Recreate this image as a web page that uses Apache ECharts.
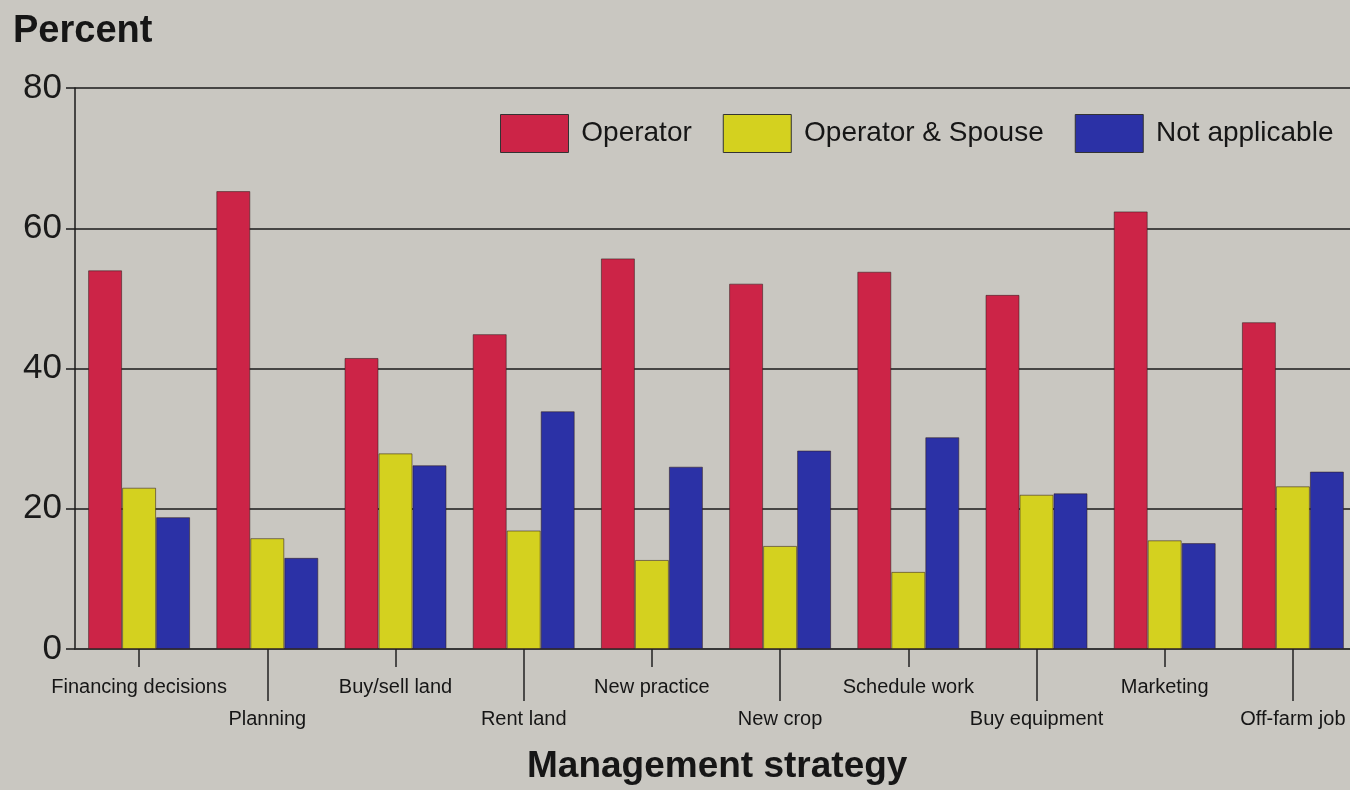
<!DOCTYPE html>
<html>
<head>
<meta charset="utf-8">
<script src="https://cdn.jsdelivr.net/npm/echarts@6/dist/echarts.min.js"></script>
<style>
  html, body { margin: 0; padding: 0; overflow: hidden; background: #c9c7c1; }
  #chart { width: 1360px; height: 790px; }
</style>
</head>
<body>
<div id="chart"></div>
<script>
// 管理策略类别
const categories = ['Financing decisions', 'Planning', 'Buy/sell land', 'Rent land', 'New practice',
    'New crop', 'Schedule work', 'Buy equipment', 'Marketing', 'Off-farm job'];
const seriesNames = ['Operator', 'Operator & Spouse', 'Not applicable'];
const operator = [54.0, 65.3, 41.5, 44.9, 55.7, 52.1, 53.8, 50.5, 62.4, 46.6];
const operatorSpouse = [23.0, 15.8, 27.9, 16.9, 12.7, 14.7, 11.0, 22.0, 15.5, 23.2];
const notApplicable = [18.8, 13.0, 26.2, 33.9, 26.0, 28.3, 30.2, 22.2, 15.1, 25.3];
const yTicks = [0, 20, 40, 60, 80];

const colors = ['#cc2447', '#d4d11f', '#2b31a6'];
const font = '"Liberation Sans", Arial, sans-serif';

const chart = echarts.init(document.getElementById('chart'));

const barStyle = (color) => ({
    color: color,
    borderColor: 'rgba(50,30,30,0.55)',
    borderWidth: 1
});

// 只画刻度线的辅助坐标轴
const tickAxis = (len, inverse) => ({
    type: 'category',
    data: categories,
    position: 'bottom',
    inverse: inverse,
    axisLine: {show: false},
    axisTick: {
        show: true,
        alignWithLabel: true,
        length: len,
        interval: 1,
        lineStyle: {color: '#222', width: 1.5}
    },
    axisLabel: {show: false}
});

const option = {
    backgroundColor: '#c9c7c1',
    animation: false,
    graphic: [
        {
            type: 'text', left: 13, top: 13,
            style: {text: 'Percent', font: 'bold 38px ' + font, fill: '#161616'}
        },
        {
            type: 'text', left: 527, top: 748,
            style: {text: 'Management strategy', font: 'bold 37px ' + font, fill: '#161616'}
        }
    ],
    legend: {
        left: 500,
        top: 114,
        padding: 0,
        itemWidth: 68,
        itemHeight: 38,
        itemGap: 31,
        icon: 'rect',
        formatter: name => ' ' + name,
        itemStyle: {borderColor: '#333', borderWidth: 1},
        textStyle: {fontFamily: font, fontSize: 28, color: '#161616'},
        data: seriesNames
    },
    grid: {left: 75, right: 3, top: 88, bottom: 141},
    xAxis: [
        {
            type: 'category',
            data: categories,
            axisLine: {lineStyle: {color: '#333', width: 1.5}},
            axisTick: {show: false},
            axisLabel: {
                interval: 0,
                margin: 22,
                lineHeight: 32,
                fontFamily: font,
                fontSize: 20,
                color: '#161616',
                formatter: (value, i) => (i % 2 === 1 ? '\n' : '') + value
            }
        },
        tickAxis(18, false),  // 短刻度: 第1,3,5...类
        tickAxis(52, true)    // 长刻度: 第2,4,6...类 (反向后隔一取一)
    ],
    yAxis: {
        type: 'value',
        min: yTicks[0],
        max: yTicks[yTicks.length - 1],
        interval: 20,
        axisLine: {show: true, lineStyle: {color: '#1a1a1a', width: 1.5}},
        axisTick: {show: true, length: 9, lineStyle: {color: '#1a1a1a', width: 1.5}},
        axisLabel: {margin: 13, fontFamily: font, fontSize: 35, color: '#1a1a1a'},
        splitLine: {lineStyle: {color: '#1a1a1a', width: 1.5}}
    },
    series: [
        {name: seriesNames[0], type: 'bar', data: operator, itemStyle: barStyle(colors[0])},
        {name: seriesNames[1], type: 'bar', data: operatorSpouse, itemStyle: barStyle(colors[1])},
        {name: seriesNames[2], type: 'bar', data: notApplicable, itemStyle: barStyle(colors[2])}
    ].map(s => Object.assign(s, {barWidth: 34, barGap: '0%'}))
};

chart.setOption(option);
</script>
</body>
</html>
